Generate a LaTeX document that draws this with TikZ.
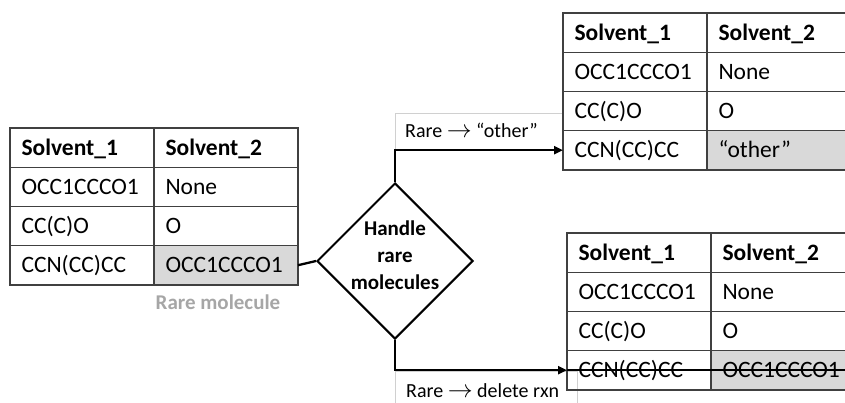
\documentclass[tikz,border=0pt]{standalone}
\usepackage{fontspec}
\setmainfont{Carlito}
\usetikzlibrary{shapes.geometric,arrows.meta}
\definecolor{tline}{HTML}{404040}
\definecolor{cellgray}{HTML}{D9D9D9}
\definecolor{raregray}{HTML}{A6A6A6}
\definecolor{boxgray}{HTML}{D0D0D0}
\newcommand\trow[6]{%
  \node[cell,anchor=north west] (#1a) at (#2,#3) {#4};
  \node[cell,anchor=north west,#6] (#1b) at (#1a.north east) {#5};
}
\newcommand\rarr{{\fontsize{25}{25}\selectfont$\rightarrow$}}
\begin{document}
\begin{tikzpicture}[x=1pt,y=-1pt,
  cell/.style={draw=tline,line width=1.4pt,outer sep=0pt,inner ysep=0pt,
    inner xsep=11.5pt,text width=121pt,align=left,minimum height=39.2pt,
    text height=15pt,text depth=0pt,font=\fontsize{23.5}{28}\selectfont},
  shaded/.style={fill=cellgray},
  conn/.style={line width=2.3pt,black},
  arr/.style={conn,-{Triangle[length=9pt,width=8pt]}},
  lbl/.style={inner sep=0pt,anchor=base west,font=\fontsize{20}{24}\selectfont},
  lblbox/.style={draw=boxgray,line width=0.8pt}]
\useasboundingbox (0,0) rectangle (845,402);
\clip (0,0) rectangle (845,402);
% label boxes
\draw[lblbox] (395,151) -- (395,113) -- (563,113);
\draw[lblbox] (395,410) -- (395,371) -- (577,371) -- (577,410);
% left table
\trow{la}{10}{128}{\textbf{Solvent\_1}}{\textbf{Solvent\_2}}{}
\trow{lb}{10}{167.2}{OCC1CCCO1}{None}{}
\trow{lc}{10}{206.4}{CC(C)O}{O}{}
\trow{ld}{10}{245.6}{CCN(CC)CC}{OCC1CCCO1}{shaded}
\node[font=\fontsize{21}{25}\selectfont\bfseries,text=raregray] (rare) at (218,302) {Rare molecule};
% top right table
\trow{ta}{563}{13}{\textbf{Solvent\_1}}{\textbf{Solvent\_2}}{}
\trow{tb}{563}{52.2}{OCC1CCCO1}{None}{}
\trow{tc}{563}{91.4}{CC(C)O}{O}{}
\trow{td}{563}{130.6}{CCN(CC)CC}{“other”}{shaded}
% bottom right table
\trow{ba}{567}{233}{\textbf{Solvent\_1}}{\textbf{Solvent\_2}}{}
\trow{bb}{567}{272.2}{OCC1CCCO1}{None}{}
\trow{bc}{567}{311.4}{CC(C)O}{O}{}
\trow{bd}{567}{350.6}{CCN(CC)CC}{OCC1CCCO1}{shaded}
% diamond
\node[diamond,draw=black,line width=2pt,minimum width=156pt,minimum height=156pt,inner sep=0pt,aspect=1] (dia) at (395,261) {};
\node[align=center,font=\fontsize{21}{27}\selectfont\bfseries,inner sep=0pt] (diat) at (395,255) {Handle\\rare\\molecules};
% connectors
\draw[conn] (ldb.east) -- (dia.west);
\draw[arr] (dia.north) |- (tda.west);
\draw[arr] (dia.south) |- (bda.west);
\draw[conn] (bda.west) -- (bdb.east);
% labels
\node[lbl] (l1) at (405,137) {Rare \rarr{} “other”};
\node[lbl] (l2) at (406,397) {Rare \rarr{} delete rxn};
\end{tikzpicture}
\end{document}
